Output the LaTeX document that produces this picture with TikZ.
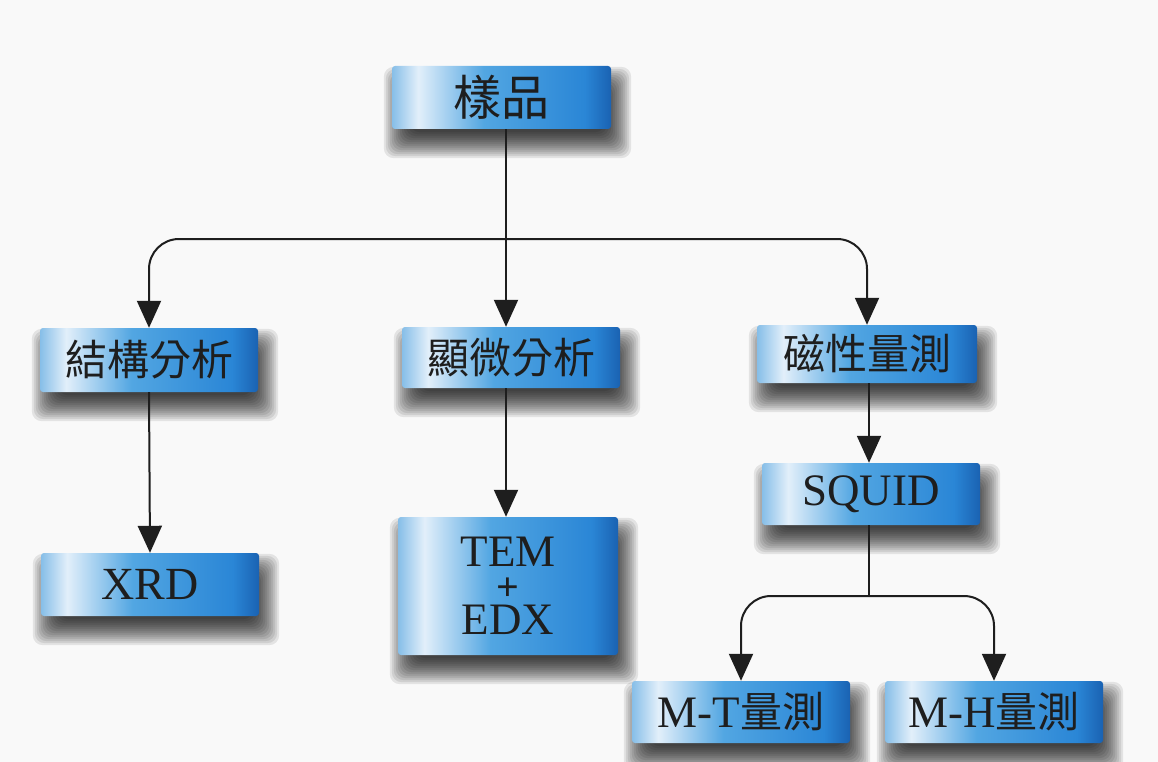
\documentclass[tikz,border=0pt]{standalone}
\usepackage{fontspec}
\setmainfont{Liberation Serif}
\newfontfamily\cjk{Noto Sans CJK TC}
\usetikzlibrary{arrows.meta,calc}
\pgfdeclarelayer{back}
\pgfdeclarelayer{shad}
\pgfsetlayers{back,shad,main}
\definecolor{bgc}{HTML}{F9F9F9}
\definecolor{sA}{HTML}{86BEE8}
\definecolor{sB}{HTML}{E2EFFA}
\definecolor{sC}{HTML}{52A6E2}
\definecolor{sD}{HTML}{2A86D6}
\definecolor{sE}{HTML}{1A62B2}
\definecolor{ink}{HTML}{1E1E1E}
\pgfdeclarehorizontalshading{boxshade}{100bp}{color(0bp)=(sA); color(25bp)=(sA); color(31bp)=(sB); color(46bp)=(sC); color(69bp)=(sD); color(75bp)=(sE); color(100bp)=(sE)}
\tikzset{
  bx/.style={shading=boxshade, rounded corners=3pt, inner sep=0pt, text=ink, align=center},
  zh/.style={font=\cjk\fontsize{42}{42}\selectfont},
  la/.style={font=\fontsize{45}{45}\selectfont},
  ln/.style={draw=ink, line width=2pt},
  arr/.style={ln, -{Triangle[length=27pt,width=24pt]}},
  rc/.style={rounded corners=30pt},
  shadlayer/.style={fill=black, opacity=0.085, rounded corners=10pt}
}
\newcommand\mkshadow[1]{%
  \foreach \r in {-12,-10,...,14}{%
    \fill[shadlayer] ($(#1.north west)+(6-\r,15-\r)$) rectangle ($(#1.south east)+(6+\r,15+\r)$);
  }%
}
\begin{document}
\begin{tikzpicture}[x=1pt,y=-1pt]
\begin{pgfonlayer}{back}
\fill[bgc] (0,0) rectangle (1158,762);
\end{pgfonlayer}
\useasboundingbox (0,0) rectangle (1158,762);

\node[bx, zh, font=\cjk\fontsize{48}{48}\selectfont, minimum width=219pt, minimum height=63pt] (smp) at (501.5,97.5) {樣品};
\node[bx, zh, minimum width=218pt, minimum height=64pt] (str) at (149,360) {結構分析};
\node[bx, zh, minimum width=218pt, minimum height=61pt] (mic) at (511,357.5) {顯微分析};
\node[bx, zh, minimum width=220pt, minimum height=58pt] (mag) at (867,354) {磁性量測};
\node[bx, la, font=\fontsize{46}{46}\selectfont, minimum width=218pt, minimum height=63pt] (xrd) at (150,584.5) {XRD};
\node[bx, la, font=\fontsize{45}{34}\selectfont, minimum width=220pt, minimum height=138pt] (tem) at (508,586) {TEM\\{\fontsize{40}{34}\selectfont\bfseries +}\\EDX};
\node[bx, la, minimum width=218pt, minimum height=62pt] (sq) at (871,494) {SQUID};
\node[bx, la, minimum width=218pt, minimum height=62pt] (mt) at (741,712) {M-T{\cjk\fontsize{42}{42}\selectfont 量測}};
\node[bx, la, minimum width=218pt, minimum height=62pt] (mh) at (994,712) {M-H{\cjk\fontsize{42}{42}\selectfont 量測}};

\begin{pgfonlayer}{shad}
\mkshadow{smp}\mkshadow{str}\mkshadow{mic}\mkshadow{mag}\mkshadow{xrd}
\mkshadow{tem}\mkshadow{sq}\mkshadow{mt}\mkshadow{mh}
\end{pgfonlayer}

\coordinate (j1) at (506,239);
\coordinate (j2) at (869,596);

\draw[ln] (smp.south -| j1) -- (j1);
\draw[arr] (j1) -- (j1 |- mic.north);
\draw[arr, rc] (j1) -| (str.north);
\draw[arr, rc] (j1) -| (mag.north);
\draw[arr] (str.south) -- (xrd.north);
\draw[arr] (mic.south -| j1) -- (j1 |- tem.north);
\draw[arr] (j2 |- mag.south) -- (j2 |- sq.north);
\draw[ln] (j2 |- sq.south) -- (j2);
\draw[arr, rc] (j2) -| (mt.north);
\draw[arr, rc] (j2) -| (mh.north);
\end{tikzpicture}
\end{document}
